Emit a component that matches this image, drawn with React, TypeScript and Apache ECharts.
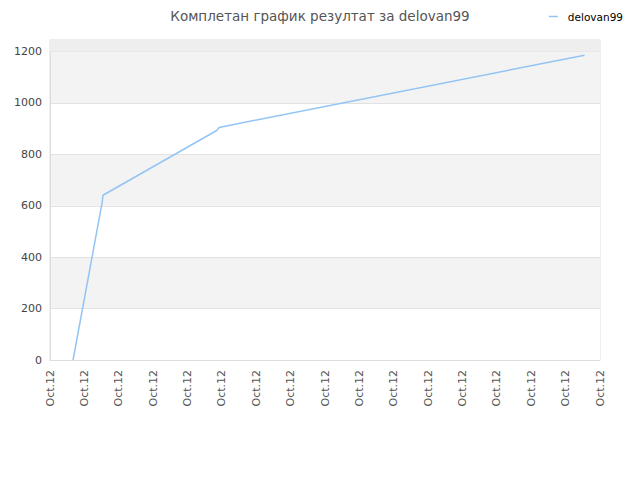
import React, { useEffect, useRef } from "react";
import * as echarts from "echarts";

const titleText = "Комплетан график резултат за delovan99";
const seriesName = "delovan99";
// x measured in label steps (0..16), y is score
const xValues = [0.67, 1.52, 1.54, 4.85, 4.92, 15.55];
const yValues = [0, 615, 641, 893, 905, 1186];
const tickLabel = "Oct.12";
const xTickCount = 16;
const yMax = 1245;

export default function App() {
  const chartRef = useRef<HTMLDivElement>(null);

  useEffect(() => {
    if (!chartRef.current) return;
    const chart = echarts.init(chartRef.current, undefined, { renderer: "svg" });
    chart.setOption({
      animation: false,
      textStyle: { fontFamily: "DejaVu Sans" },
      title: {
        text: titleText,
        left: "center",
        top: 4,
        textStyle: { fontSize: 13.5, fontWeight: "normal", color: "#555" },
      },
      legend: {
        right: 12,
        top: 6,
        itemWidth: 9,
        itemHeight: 1.5,
        itemGap: 10,
        icon: "rect",
        textStyle: { fontSize: 10.5, color: "#000", padding: [0, 0, 0, 5] },
        data: [seriesName],
      },
      grid: {
        left: 50,
        right: 40,
        top: 40,
        bottom: 120,
        show: true,
        borderColor: "#ddd",
        borderWidth: 1,
      },
      xAxis: {
        type: "value",
        min: 0,
        max: xTickCount,
        interval: 1,
        axisLine: { show: true, lineStyle: { color: "#ddd" } },
        axisTick: { show: false },
        splitLine: { show: false },
        axisLabel: {
          rotate: 90,
          color: "#555",
          fontSize: 11,
          margin: 10,
          formatter: () => tickLabel,
        },
      },
      yAxis: {
        type: "value",
        min: 0,
        max: yMax,
        interval: 200,
        axisLine: { show: true, lineStyle: { color: "#ddd" } },
        axisTick: { show: false },
        splitLine: { show: true, lineStyle: { color: "#e2e2e2" } },
        splitArea: { show: true, areaStyle: { color: ["#ffffff", "#f3f3f3"] } },
        axisLabel: {
          color: "#444",
          fontSize: 11,
          margin: 8,
          showMaxLabel: false,
          formatter: (v: number) => String(v),
        },
      },
      series: [
        {
          name: seriesName,
          type: "line",
          data: xValues.map((x, i) => [x, yValues[i]]),
          showSymbol: false,
          symbol: "none",
          lineStyle: { color: "#93c4f4", width: 1.5 },
          itemStyle: { color: "#93c4f4" },
          markArea: {
            silent: true,
            itemStyle: { color: "#eeeeee" },
            data: [[{ yAxis: 1200 }, { yAxis: yMax }]],
          },
        },
      ],
    });
    return () => chart.dispose();
  }, []);

  return <div ref={chartRef} style={{ width: 640, height: 480, margin: -8 }} />;
}
